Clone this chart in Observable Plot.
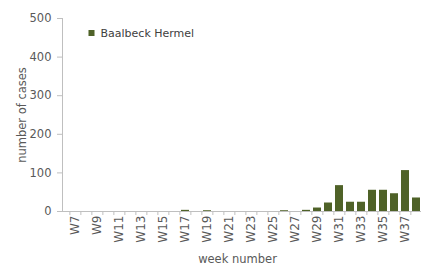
<!DOCTYPE html>
<html>
<head>
<meta charset="utf-8">
<script src="https://cdn.jsdelivr.net/npm/d3@7"></script>
<script src="https://cdn.jsdelivr.net/npm/@observablehq/plot@0.6"></script>
<style>
  html, body { margin: 0; padding: 0; background: #fff; overflow: hidden; width: 421px; height: 265px; }
  #chart svg { display: block; max-width: none !important; height: 265px !important; }
</style>
</head>
<body>
<div id="chart"></div>
<script>
const weeks = ["W7","W8","W9","W10","W11","W12","W13","W14","W15","W16","W17","W18","W19","W20","W21","W22","W23","W24","W25","W26","W27","W28","W29","W30","W31","W32","W33","W34","W35","W36","W37","W38"];
const cases = [0,0,0,0,0,0,0,0,0,0,3,0,2,0,0,0,0,0,0,2,0,3,9,22,67,24,24,55,55,46,106,35];
const labeledWeeks = ["W7","W9","W11","W13","W15","W17","W19","W21","W23","W25","W27","W29","W31","W33","W35","W37"];
const yTicks = [0,100,200,300,400,500];
const seriesName = "Baalbeck Hermel";
const yTitle = "number of cases";
const xTitle = "week number";

const data = weeks.map((w, i) => ({week: w, value: cases[i]}));

const barColor = "#4f6228";
const textColor = "#595959";
const axisColor = "#bfbfbf";
const W = 430, mL = 62, mR = 4, insL = 3;
const band = (W - mL - mR - insL) / weeks.length;

const chart = Plot.plot({
  width: W,
  height: 265,
  marginTop: 18,
  marginBottom: 54,
  marginLeft: mL,
  marginRight: mR,
  style: {fontFamily: "DejaVu Sans", fontSize: "11.5px", color: textColor, background: "#fff"},
  x: {domain: weeks, padding: 0.3, insetLeft: insL, axis: null},
  y: {domain: [0, 500], axis: null},
  marks: [
    Plot.barY(data, {x: "week", y: "value", fill: barColor}),
    Plot.frame({anchor: "left", stroke: axisColor}),
    Plot.ruleY([0], {stroke: axisColor}),
    Plot.axisY({ticks: yTicks, tickSize: 5, tickPadding: 6, fontSize: 11.5, stroke: axisColor, fill: textColor, label: null}),
    Plot.axisX({ticks: weeks, tickSize: 4, tickFormat: () => "", dx: -band / 2, stroke: axisColor, label: null}),
    Plot.axisX({ticks: weeks, tickSize: 0, tickPadding: 4, tickRotate: -90, fontSize: 12, fill: textColor,
      tickFormat: d => labeledWeeks.includes(d) ? d : "", label: null}),
    Plot.text([yTitle], {frameAnchor: "left", textAnchor: "middle", dx: -40, rotate: -90, fontSize: 11.5, fill: textColor}),
    Plot.text([xTitle], {frameAnchor: "bottom", textAnchor: "middle", dx: -7, dy: 51, fontSize: 11.5, fill: textColor}),
    Plot.dot([seriesName], {frameAnchor: "top-left", dx: 29, dy: 14.5, symbol: "square", r: 3.4, fill: barColor}),
    Plot.text([seriesName], {frameAnchor: "top-left", dx: 38, dy: 14.5, textAnchor: "start", lineAnchor: "middle", fontSize: 11, fill: "#404040"})
  ]
});
document.getElementById("chart").appendChild(chart);
</script>
</body>
</html>
